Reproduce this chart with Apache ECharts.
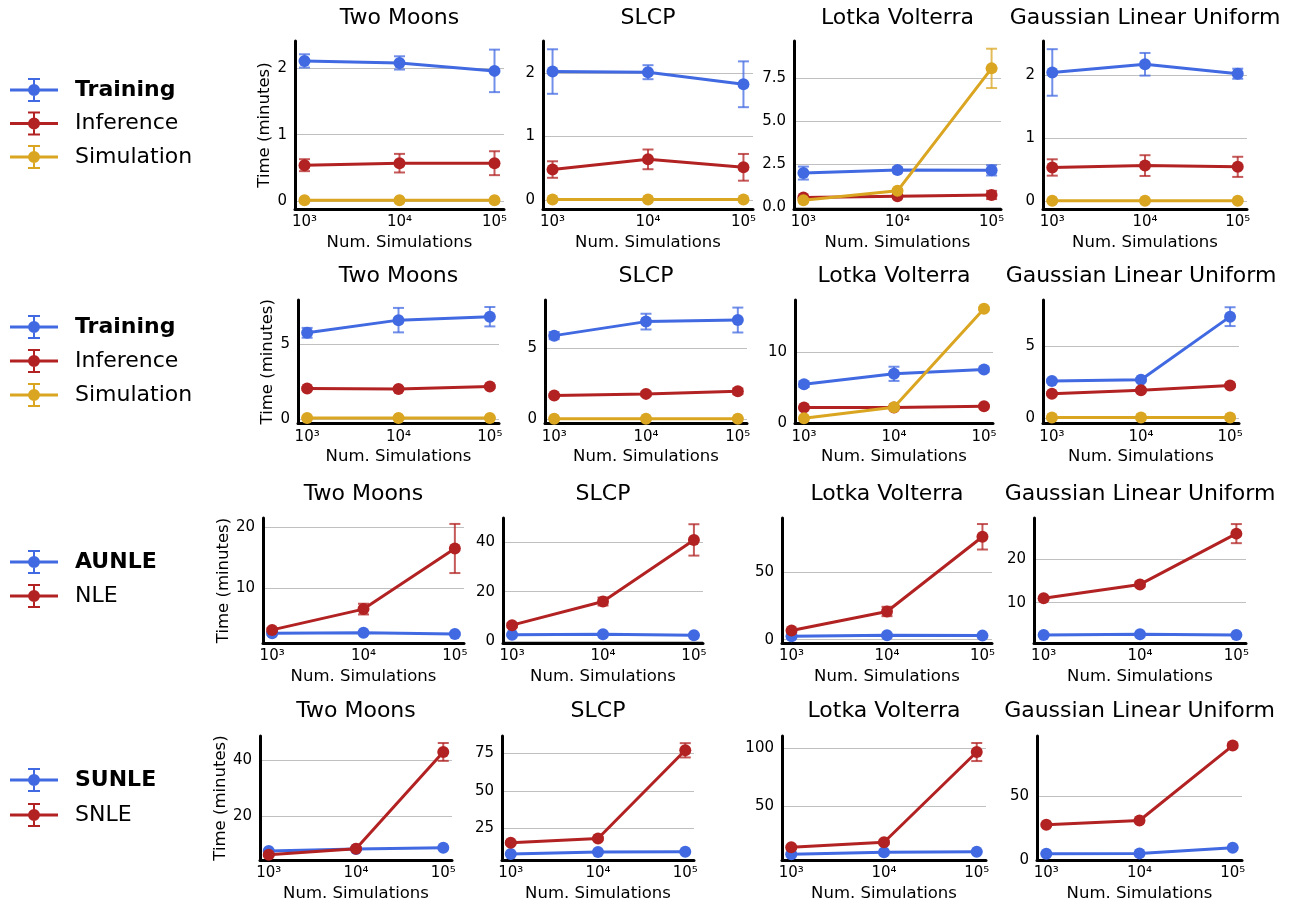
<!DOCTYPE html>
<html>
<head>
<meta charset="utf-8">
<script src="https://cdn.jsdelivr.net/npm/echarts@6/dist/echarts.min.js"></script>
<style>
html, body { margin: 0; padding: 0; background: #ffffff; }
#chart { width: 1299px; height: 905px; }
</style>
</head>
<body>
<div id="chart"></div>
<script>
// ---------------- DATA ----------------
const numSims = [1e3, 1e4, 1e5];
const xTickLabels = ['10³', '10⁴', '10⁵'];
const tasks = ['Two Moons', 'SLCP', 'Lotka Volterra', 'Gaussian Linear Uniform'];

// Row 1
const row1Methods = ['Training', 'Inference', 'Simulation'];
const r1Training      = [[2.11, 2.08, 1.96], [2.02, 2.01, 1.82], [1.97, 2.15, 2.13], [2.05, 2.18, 2.03]];
const r1TrainingErr   = [[0.10, 0.10, 0.32], [0.35, 0.11, 0.36], [0.38, 0.15, 0.30], [0.37, 0.18, 0.08]];
const r1Inference     = [[0.54, 0.57, 0.57], [0.48, 0.64, 0.515], [0.54, 0.62, 0.69], [0.54, 0.57, 0.55]];
const r1InferenceErr  = [[0.09, 0.14, 0.18], [0.13, 0.155, 0.21], [0.10, 0.10, 0.24], [0.13, 0.165, 0.16]];
const r1Simulation    = [[0.01, 0.01, 0.01], [0.01, 0.01, 0.01], [0.38, 0.93, 8.09], [0.01, 0.01, 0.01]];
const r1SimulationErr = [[0.005, 0.005, 0.005], [0.005, 0.005, 0.005], [0.05, 0.10, 1.15], [0.005, 0.005, 0.005]];
const r1YMin   = [-0.12, -0.14, -0.13, -0.12];
const r1YMax   = [2.41, 2.50, 9.69, 2.55];
const r1YTicks = [[0, 1, 2], [0, 1, 2], [0, 2.5, 5, 7.5], [0, 1, 2]];

// Row 2
const row2Methods = ['Training', 'Inference', 'Simulation'];
const r2Training      = [[5.77, 6.62, 6.85], [5.86, 6.84, 6.95], [5.44, 6.90, 7.50], [2.57, 2.66, 7.02]];
const r2TrainingErr   = [[0.33, 0.82, 0.65], [0.25, 0.55, 0.87], [0.40, 1.00, 0.30], [0.10, 0.10, 0.65]];
const r2Inference     = [[2.04, 2.01, 2.17], [1.67, 1.79, 1.97], [2.15, 2.15, 2.34], [1.70, 1.93, 2.27]];
const r2InferenceErr  = [[0.10, 0.10, 0.10], [0.10, 0.15, 0.20], [0.10, 0.10, 0.15], [0.10, 0.10, 0.10]];
const r2Simulation    = [[0.06, 0.06, 0.06], [0.06, 0.06, 0.06], [0.65, 2.20, 16.06], [0.06, 0.06, 0.06]];
const r2SimulationErr = [[0.01, 0.01, 0.01], [0.01, 0.01, 0.01], [0.05, 0.10, 0.20], [0.01, 0.01, 0.01]];
const r2YMin   = [-0.31, -0.28, -0.10, -0.36];
const r2YMax   = [7.97, 8.35, 17.3, 8.17];
const r2YTicks = [[0, 5], [0, 5], [0, 10], [0, 5]];

// Row 3
const row3Methods = ['AUNLE', 'NLE'];
const r3AUNLE    = [[2.60, 2.70, 2.49], [2.70, 2.95, 2.55], [2.50, 3.20, 3.00], [2.55, 2.70, 2.55]];
const r3AUNLEErr = [[0.20, 0.20, 0.20], [0.30, 0.30, 0.30], [0.50, 0.50, 0.50], [0.20, 0.20, 0.20]];
const r3NLE      = [[3.15, 6.56, 16.5], [6.56, 16.06, 40.8], [6.75, 21.0, 76.7], [11.0, 14.2, 25.9]];
const r3NLEErr   = [[0.30, 0.88, 4.03], [0.80, 1.60, 6.30], [1.00, 3.50, 9.50], [0.30, 0.50, 2.20]];
const r3YMin   = [1.0, -0.6, -2.5, 0.7];
const r3YMax   = [21.5, 49.6, 90.7, 29.5];
const r3YTicks = [[10, 20], [0, 20, 40], [0, 50], [10, 20]];

// Row 4
const row4Methods = ['SUNLE', 'SNLE'];
const r4SUNLE    = [[7.70, 8.40, 8.87], [7.56, 8.90, 9.10], [7.60, 9.30, 9.90], [4.70, 4.90, 9.40]];
const r4SUNLEErr = [[0.30, 0.30, 0.30], [0.40, 0.40, 0.40], [0.40, 0.40, 0.40], [0.30, 0.30, 0.50]];
const r4SNLE     = [[6.36, 8.50, 43.1], [15.1, 18.0, 77.2], [13.7, 18.1, 97.0], [27.3, 30.7, 89.6]];
const r4SNLEErr  = [[0.40, 0.50, 3.20], [1.00, 1.00, 4.80], [1.00, 1.50, 7.90], [1.00, 1.00, 1.50]];
const r4YMin   = [4.45, 3.6, 2.6, -0.3];
const r4YMax   = [48.8, 86.8, 111, 97.1];
const r4YTicks = [[20, 40], [25, 50, 75], [50, 100], [0, 50]];

// ---------------- STYLE / LAYOUT ----------------
const FONT = 'DejaVu Sans';
const BLUE = '#4169E1', RED = '#B22222', GOLD = '#DAA520';

const rows = [
  { methods: row1Methods, colors: [BLUE, RED, GOLD], means: [r1Training, r1Inference, r1Simulation],
    errs: [r1TrainingErr, r1InferenceErr, r1SimulationErr], yMin: r1YMin, yMax: r1YMax, yTicks: r1YTicks, decimals: [0, 0, 1, 0] },
  { methods: row2Methods, colors: [BLUE, RED, GOLD], means: [r2Training, r2Inference, r2Simulation],
    errs: [r2TrainingErr, r2InferenceErr, r2SimulationErr], yMin: r2YMin, yMax: r2YMax, yTicks: r2YTicks, decimals: [0, 0, 0, 0] },
  { methods: row3Methods, colors: [BLUE, RED], means: [r3AUNLE, r3NLE],
    errs: [r3AUNLEErr, r3NLEErr], yMin: r3YMin, yMax: r3YMax, yTicks: r3YTicks, decimals: [0, 0, 0, 0] },
  { methods: row4Methods, colors: [BLUE, RED], means: [r4SUNLE, r4SNLE],
    errs: [r4SUNLEErr, r4SNLEErr], yMin: r4YMin, yMax: r4YMax, yTicks: r4YTicks, decimals: [0, 0, 0, 0] }
];

const layout = [
  { top: 41,  bottom: 209,   lefts: [295, 543, 794, 1043], rights: [504, 753, 1001, 1247], titleTop: 7,     yNameGap: 19, legendTop: 78,  legendGap: 9.5 },
  { top: 300, bottom: 423.5, lefts: [298, 545, 795, 1043], rights: [499, 747, 993, 1239],  titleTop: 265,   yNameGap: 21, legendTop: 315, legendGap: 10 },
  { top: 518, bottom: 643,   lefts: [263, 503, 782, 1034], rights: [464, 703, 992, 1246],  titleTop: 483.5, yNameGap: 28, legendTop: 550, legendGap: 10 },
  { top: 736, bottom: 860,   lefts: [260, 502, 782, 1037], rights: [452, 694, 986, 1242],  titleTop: 700.5, yNameGap: 30, legendTop: 768, legendGap: 11 }
];

// legend icon: line + marker + error bar with caps (48 x 24 box)
const ERRBAR_ICON = 'path://M0 10.5 H48 V13.5 H0 Z M23 0 H25 V24 H23 Z M18 0 H30 V2 H18 Z M18 22 H30 V24 H18 Z M30 12 A6 6 0 1 1 18 12 A6 6 0 1 1 30 12 Z';

function xLabel(v) {
  const i = numSims.findIndex(n => Math.abs(n - v) / n < 1e-6);
  return i >= 0 ? xTickLabels[i] : '';
}

function makeErrRender(color) {
  return function (params, api) {
    const x = api.value(0), y = api.value(1), e = api.value(2);
    const p1 = api.coord([x, y + e]);
    const p2 = api.coord([x, y - e]);
    const hw = 5.5;
    const st = { stroke: color, lineWidth: 2, opacity: 0.75 };
    return {
      type: 'group',
      children: [
        { type: 'line', shape: { x1: p1[0], y1: p1[1], x2: p2[0], y2: p2[1] }, style: st },
        { type: 'line', shape: { x1: p1[0] - hw, y1: p1[1], x2: p1[0] + hw, y2: p1[1] }, style: st },
        { type: 'line', shape: { x1: p2[0] - hw, y1: p2[1], x2: p2[0] + hw, y2: p2[1] }, style: st }
      ]
    };
  };
}

const option = {
  animation: false,
  backgroundColor: '#ffffff',
  title: [], legend: [], grid: [], xAxis: [], yAxis: [], series: []
};

rows.forEach((row, r) => {
  const L = layout[r];
  option.legend.push({
    orient: 'vertical', left: 10, top: L.legendTop, padding: 0,
    itemWidth: 48, itemHeight: 24, itemGap: L.legendGap,
    icon: ERRBAR_ICON, itemStyle: { borderWidth: 0 },
    textStyle: { fontFamily: FONT, fontSize: 22, color: '#000', padding: [0, 0, 0, 12] },
    data: row.methods.map((m, i) => i === 0 ? { name: m, textStyle: { fontWeight: 'bold' } } : { name: m })
  });
  tasks.forEach((task, c) => {
    const gi = r * 4 + c;
    const left = L.lefts[c], right = L.rights[c];
    option.grid.push({
      left: left, top: L.top, width: right - left, height: L.bottom - L.top,
      show: false, containLabel: false, outerBoundsMode: 'none'
    });
    option.title.push({
      text: task, left: (left + right) / 2, top: L.titleTop, textAlign: 'center', padding: 0,
      textStyle: { fontFamily: FONT, fontSize: 22, fontWeight: 'normal', color: '#000' }
    });
    option.xAxis.push({
      type: 'log', logBase: 10, gridIndex: gi, min: Math.pow(10, 2.9), max: Math.pow(10, 5.1),
      name: 'Num. Simulations', nameLocation: 'middle', nameGap: 25,
      nameTextStyle: { fontFamily: FONT, fontSize: 16.5, color: '#000' },
      axisLine: { show: true, onZero: false, lineStyle: { color: '#000', width: 3 } },
      axisTick: { show: false }, minorTick: { show: false },
      splitLine: { show: false }, minorSplitLine: { show: false },
      axisLabel: { formatter: xLabel, margin: 6, fontSize: 15, color: '#000', fontFamily: FONT,
                   showMinLabel: false, showMaxLabel: false }
    });
    const dec = row.decimals[c];
    option.yAxis.push({
      type: 'value', gridIndex: gi, min: row.yMin[c], max: row.yMax[c],
      name: c === 0 ? 'Time (minutes)' : '', nameLocation: 'middle', nameGap: L.yNameGap,
      nameTextStyle: { fontFamily: FONT, fontSize: 16.5, color: '#000' },
      axisLine: { show: true, onZero: false, lineStyle: { color: '#000', width: 3 } },
      axisTick: { show: false, customValues: row.yTicks[c] },
      axisLabel: { customValues: row.yTicks[c], formatter: v => Number(v).toFixed(dec),
                   margin: 8, fontSize: 15, color: '#000', fontFamily: FONT },
      splitLine: { show: true, lineStyle: { color: '#c0c0c0', width: 1 } }
    });
    row.methods.forEach((m, k) => {
      const color = row.colors[k];
      const mean = row.means[k][c];
      const err = row.errs[k][c];
      option.series.push({
        type: 'line', name: m, xAxisIndex: gi, yAxisIndex: gi, z: 3 + 2 * k,
        data: numSims.map((n, i) => [n, mean[i]]),
        symbol: 'circle', symbolSize: 12, showSymbol: true,
        itemStyle: { color: color, borderWidth: 0 },
        lineStyle: { color: color, width: 3 },
        emphasis: { disabled: true }, silent: true
      });
      option.series.push({
        type: 'custom', name: m, xAxisIndex: gi, yAxisIndex: gi, z: 2 + 2 * k,
        data: numSims.map((n, i) => [n, mean[i], err[i]]),
        encode: { x: 0, y: 1 },
        renderItem: makeErrRender(color),
        itemStyle: { color: color },
        clip: false, silent: true
      });
    });
  });
});

const chart = echarts.init(document.getElementById('chart'), null, { renderer: 'canvas' });
chart.setOption(option);
</script>
</body>
</html>
